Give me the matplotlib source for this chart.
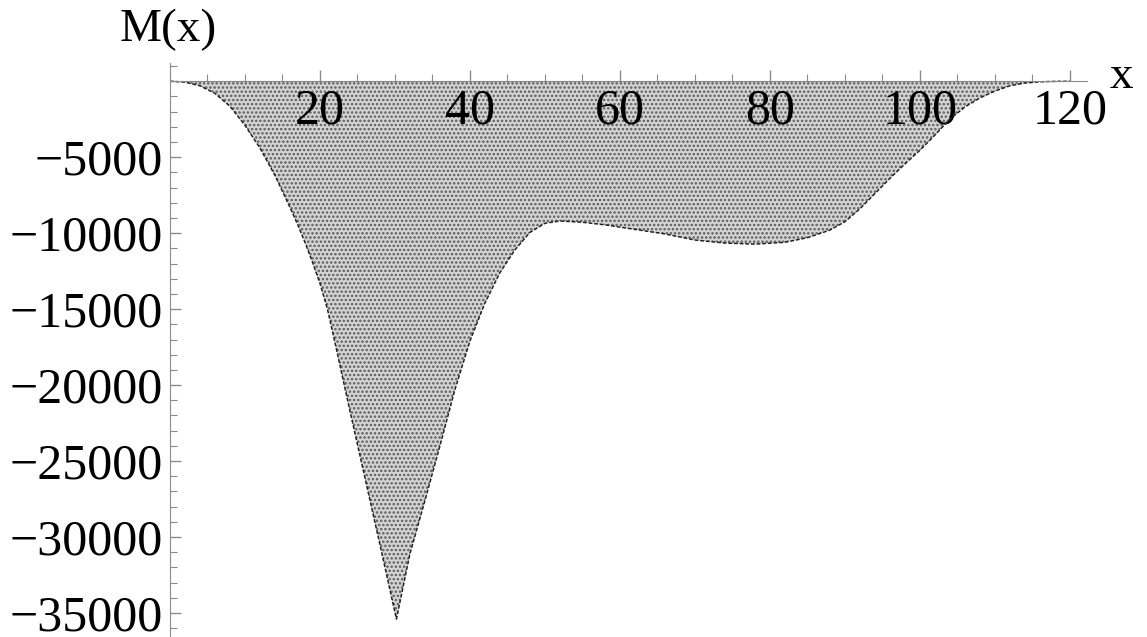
import numpy as np
import matplotlib.pyplot as plt
from matplotlib.ticker import MultipleLocator

# bending moment along the beam
x_pos = [0, 2, 4, 6, 8, 10, 12, 14, 16, 17, 18, 19, 20, 21, 22, 24, 26, 28,
         30.2, 32, 34, 36, 38, 40, 42, 44, 46, 48, 50, 52, 55, 58, 62, 66,
         70, 74, 78, 82, 85, 88, 90, 92, 94, 96, 98, 100, 102, 104, 106,
         108, 110, 112, 114, 116, 118, 120]
moment = [0, -60, -300, -800, -1650, -2900, -4400, -6200, -8300, -9400,
          -10600, -11900, -13300, -15000, -17200, -21700, -26100, -30500,
          -35400, -31100, -27600, -24000, -20300, -17100, -14600, -12600,
          -11100, -9950, -9350, -9200, -9280, -9450, -9750, -10050, -10450,
          -10650, -10720, -10600, -10300, -9800, -9250, -8400, -7400,
          -6400, -5450, -4550, -3550, -2500, -1700, -1100, -650, -300,
          -120, -40, -10, 0]

x_major = [20, 40, 60, 80, 100, 120]
y_major = [-5000, -10000, -15000, -20000, -25000, -30000, -35000]

plt.rcParams['font.family'] = ['Liberation Serif', 'DejaVu Serif']
plt.rcParams['hatch.linewidth'] = 1.2

W, H = 1147, 637
fig = plt.figure(figsize=(W/100, H/100), dpi=100)
ax = fig.add_axes([170/W, 0, (1087-170)/W, 1 - 63/H])
ax.set_xlim(0, 122.3)
ax.set_ylim(-36580, 1200)

ax.fill_between(x_pos, moment, 0, facecolor='#d4d4d4', edgecolor='#5a5a5a',
                hatch='....', linewidth=0)
ax.plot(x_pos, moment, color='#222222', lw=1.1, ls=(0, (2.5, 1.2)))

axis_col = '#8a8a8a'
for s in ['top', 'right']:
    ax.spines[s].set_visible(False)
ax.spines['bottom'].set_position(('data', 0))
ax.spines['bottom'].set_color(axis_col)
ax.spines['left'].set_color(axis_col)
ax.spines['bottom'].set_zorder(5)

ax.set_xticks(x_major)
ax.set_yticks(y_major)
ax.xaxis.set_minor_locator(MultipleLocator(5))
ax.yaxis.set_minor_locator(MultipleLocator(1000))
ax.set_yticklabels(['\u2212%d' % abs(v) for v in y_major])
ax.tick_params(axis='both', which='both', direction='in', colors=axis_col,
               labelcolor='black', labelsize=36)
ax.tick_params(axis='both', which='major', length=8, width=1)
ax.tick_params(axis='both', which='minor', length=5, width=0.8)
ax.tick_params(axis='x', which='major', pad=5)
ax.tick_params(axis='y', which='major', pad=5)

fig.text(168/W, 1 - 30/H, 'M(x)', fontsize=34, ha='center', va='center')
fig.text(1121/W, 1 - 77/H, 'x', fontsize=34, ha='center', va='center')

fig.savefig('out.png', dpi=100)
